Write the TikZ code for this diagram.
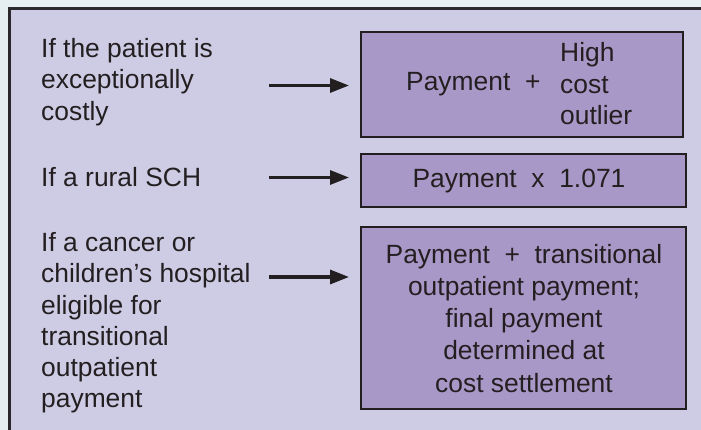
\documentclass[tikz,border=0pt]{standalone}
\usepackage{fontspec}
\setmainfont{Liberation Sans}
\usetikzlibrary{arrows.meta}
\definecolor{bgc}{RGB}{229,239,241}
\definecolor{panel}{RGB}{206,203,229}
\definecolor{boxfill}{RGB}{168,152,200}
\definecolor{ink}{RGB}{35,31,32}
\definecolor{frame}{RGB}{42,40,42}
\tikzset{
  cond/.style={anchor=base west, inner sep=0pt, text=ink, font=\fontsize{26.4}{31.3}\selectfont},
  restext/.style={inner sep=0pt, text=ink, font=\fontsize{26.4}{31.3}\selectfont},
  resbox/.style={draw=ink, line width=2.7pt, fill=boxfill, inner sep=0pt},
  pointer/.style={draw=ink, line width=3.2pt, -{Triangle[length=19pt,width=14pt]}},
}
\begin{document}
\begin{tikzpicture}[x=1pt,y=-1pt]
\useasboundingbox (0,0) rectangle (701,430);
\clip (0,0) rectangle (701,430);
\fill[bgc] (0,0) rectangle (701,430);
\draw[line width=2.7pt, draw=frame, fill=panel] (9.5,8.5) rectangle (720,450);

% result boxes
\node[resbox, minimum width=322pt, minimum height=105pt] (r1) at (522,84.5) {};
\node[resbox, minimum width=325pt, minimum height=53pt] (r2) at (523.5,180.5) {};
\node[resbox, minimum width=325pt, minimum height=182pt] (r3) at (523.5,318) {};

% texts in result boxes
\node[restext, anchor=base west] (r1a) at (406,91) {Payment~~+};
\node[restext, anchor=base west] (r1b) at (560,62) {\begin{tabular}[t]{@{}l@{}}High\\cost\\outlier\end{tabular}};
\node[restext, anchor=base] (r2a) at (519,188) {Payment~~x~~1.071};
\node[restext, anchor=base, font=\fontsize{26.4}{32}\selectfont] (r3a) at (524,264) {\begin{tabular}[t]{@{}c@{}}Payment~~+~~transitional\\outpatient payment;\\final payment\\determined at\\cost settlement\end{tabular}};

% conditions
\node[cond] (c1) at (41,57.5) {\begin{tabular}[t]{@{}l@{}}If the patient is\\exceptionally\\costly\end{tabular}};
\node[cond] (c2) at (41,186.7) {If a rural SCH};
\node[cond] (c3) at (41,251.5) {\begin{tabular}[t]{@{}l@{}}If a cancer or\\children’s hospital\\eligible for\\transitional\\outpatient\\payment\end{tabular}};

% arrows
\coordinate (a1s) at (269,85.5);
\coordinate (a1e) at (349,85.5);
\coordinate (a2s) at (269,177.5);
\coordinate (a2e) at (349,177.5);
\coordinate (a3s) at (269,277);
\coordinate (a3e) at (349,277);
\draw[pointer] (a1s) -- (a1e);
\draw[pointer] (a2s) -- (a2e);
\draw[pointer] (a3s) -- (a3e);
\end{tikzpicture}
\end{document}
